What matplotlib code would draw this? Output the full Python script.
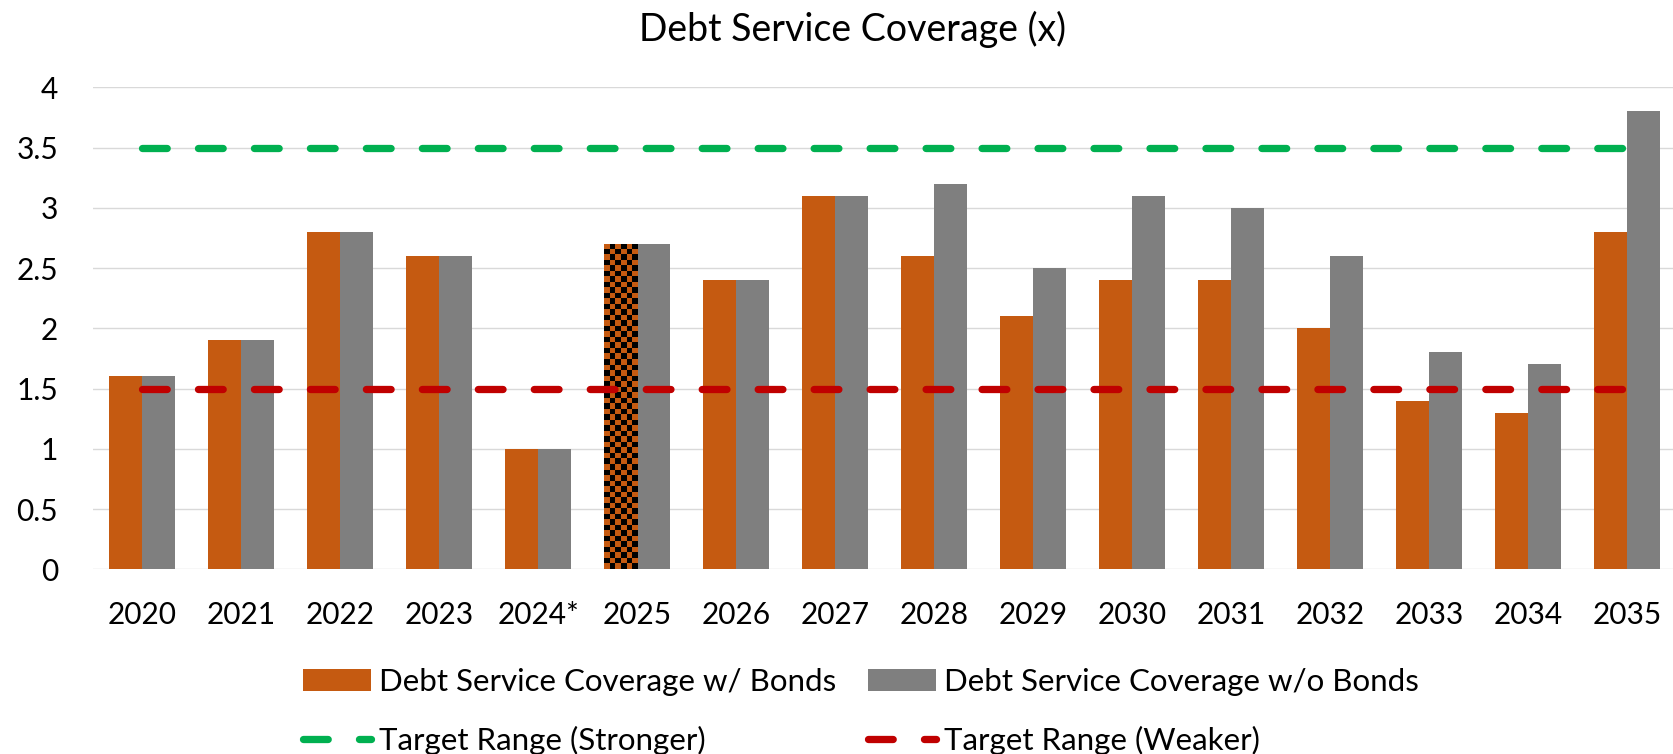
import numpy as np
import matplotlib
matplotlib.use("Agg")
import matplotlib.pyplot as plt
from matplotlib.colors import ListedColormap
from matplotlib.ticker import FuncFormatter

plt.rcParams['font.family'] = ['Lato', 'DejaVu Sans']
plt.rcParams['lines.scale_dashes'] = False

# data
years = ['2020', '2021', '2022', '2023', '2024*', '2025', '2026', '2027',
         '2028', '2029', '2030', '2031', '2032', '2033', '2034', '2035']
with_bonds = [1.6, 1.9, 2.8, 2.6, 1.0, 2.7, 2.4, 3.1, 2.6, 2.1, 2.4, 2.4, 2.0, 1.4, 1.3, 2.8]
without_bonds = [1.6, 1.9, 2.8, 2.6, 1.0, 2.7, 2.4, 3.1, 3.2, 2.5, 3.1, 3.0, 2.6, 1.8, 1.7, 3.8]
target_stronger = [3.5] * 16
target_weaker = [1.5] * 16
checkered_year = '2025'

ORANGE = '#C55A11'
GREY = '#7F7F7F'
GREEN = '#00B050'
RED = '#C00000'
GRID = '#D9D9D9'
FS = 21.5

W, H = 1673, 754
fig = plt.figure(figsize=(W / 100, H / 100), dpi=100)
ax = fig.add_axes([92.8 / W, 1 - 569.3 / H, (1677 - 92.8) / W, (569.3 - 87.3) / H])

x = np.arange(len(years))
bw = 1 / 3
b1 = ax.bar(x - bw / 2, with_bonds, bw, color=ORANGE, zorder=2)
b2 = ax.bar(x + bw / 2, without_bonds, bw, color=GREY, zorder=2)

dash = (17.8, 22.5)
l1, = ax.plot(x, target_stronger, color=GREEN, lw=5.25, dashes=dash,
              dash_capstyle='round', zorder=4)
l2, = ax.plot(x, target_weaker, color=RED, lw=5.25, dashes=dash,
              dash_capstyle='round', zorder=4)

ax.set_xlim(-0.5, len(years) - 0.5)
ax.set_ylim(0, 4)

# checkerboard fill for the 2025 "w/ Bonds" bar
bar = b1[years.index(checkered_year)]
bx, bwid, bh = bar.get_x(), bar.get_width(), bar.get_height()
p0 = ax.transData.transform((bx, 0))
p1 = ax.transData.transform((bx + bwid, bh))
ncols = 6
nrows = int(round(ncols * (p1[1] - p0[1]) / (p1[0] - p0[0])))
board = np.add.outer(np.arange(nrows), np.arange(ncols)) % 2
img = ax.imshow(board, cmap=ListedColormap([ORANGE, 'black']),
                extent=(bx, bx + bwid, 0, bh), aspect='auto',
                interpolation='nearest', zorder=3)
img.set_clip_path(bar)
ax.set_xlim(-0.5, len(years) - 0.5)
ax.set_ylim(0, 4)

ax.set_xticks(x)
ax.set_xticklabels(years)
ax.set_yticks(np.arange(0, 4.01, 0.5))
ax.yaxis.set_major_formatter(FuncFormatter(lambda v, p: '{:g}'.format(v)))
ax.tick_params(axis='both', length=0, labelsize=FS)
ax.tick_params(axis='x', pad=23)
ax.tick_params(axis='y', pad=25)
ax.yaxis.grid(True, color=GRID, lw=1.0)
ax.set_axisbelow(True)
for s in ax.spines.values():
    s.set_visible(False)

fig.text(853 / W, 1 - 41 / H, 'Debt Service Coverage (x)', ha='center',
         va='baseline', fontsize=27)

handles = [b1, l1, b2, l2]
labels = ['Debt Service Coverage w/ Bonds', 'Target Range (Stronger)',
          'Debt Service Coverage w/o Bonds', 'Target Range (Weaker)']
fig.legend(handles, labels, ncol=2, loc='center',
           bbox_to_anchor=(861 / W, 1 - 711.4 / H), frameon=False, fontsize=22.5,
           handlelength=2.18, handletextpad=0.26, columnspacing=1.0,
           labelspacing=0.98, borderpad=0)

fig.savefig('out.png', dpi=100)
